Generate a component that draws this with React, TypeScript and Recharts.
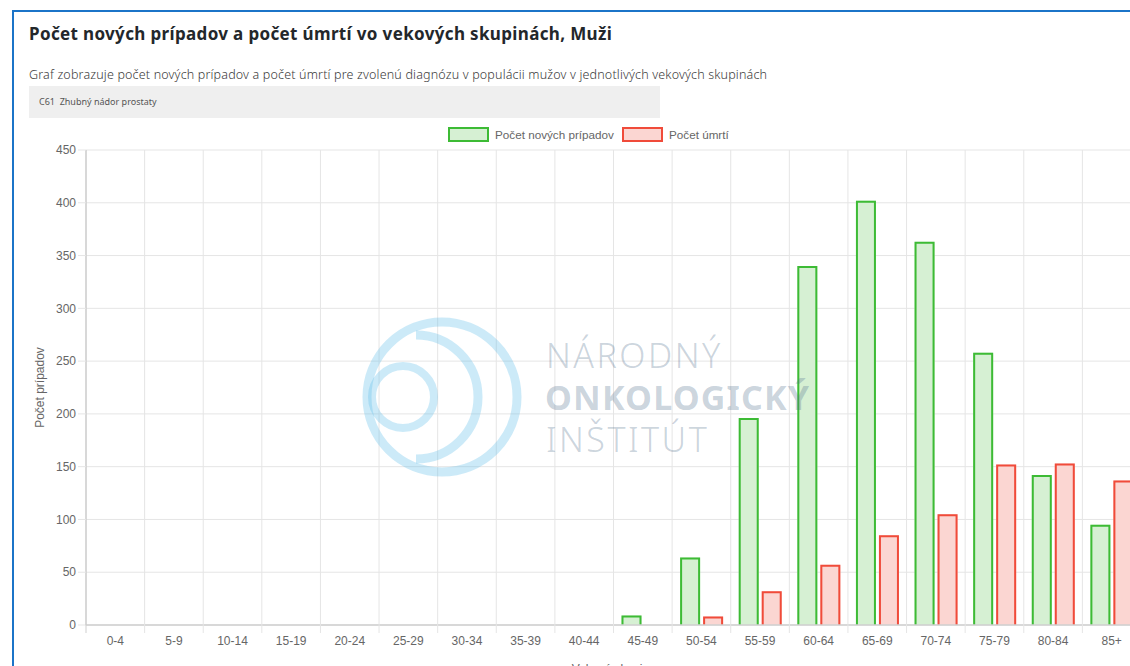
import React from 'react';
import { BarChart, Bar, XAxis, YAxis, CartesianGrid } from 'recharts';

const categories = ['0-4', '5-9', '10-14', '15-19', '20-24', '25-29', '30-34', '35-39', '40-44', '45-49', '50-54', '55-59', '60-64', '65-69', '70-74', '75-79', '80-84', '85+'];
const newCases = [0, 0, 0, 0, 0, 0, 0, 0, 0, 9, 64, 196, 340, 402, 363, 258, 142, 95];
const deaths = [0, 0, 0, 0, 0, 0, 0, 0, 0, 0, 8, 32, 57, 85, 105, 152, 153, 137];
const yTicks = [0, 50, 100, 150, 200, 250, 300, 350, 400, 450];

const seriesNames = { newCases: 'Počet nových prípadov', deaths: 'Počet úmrtí' };

const data = categories.map((c, i) => ({ group: c, newCases: newCases[i], deaths: deaths[i] }));

const GREEN = '#3dbb35';
const GREEN_FILL = '#d6f0d3';
const RED = '#f04b3a';
const RED_FILL = '#fbd6d2';
const GRID = '#e5e5e5';
const AXIS = '#cfcfcf';
const TICK = '#666';
const FONT = '"Liberation Sans", Arial, Helvetica, sans-serif';
const UI_FONT = '"Noto Sans", "Open Sans", sans-serif';

const CHART_W = 1160;
const CHART_H = 690;
const M_TOP = 150;
const M_RIGHT = 19;
const Y_W = 86;
const X_H = 40;
const M_BOTTOM = CHART_H - 625 - X_H;
const PLOT_W = CHART_W - Y_W - M_RIGHT;
const BAND = PLOT_W / categories.length;

function makeShape(stroke: string, fill: string) {
  return (props: any) => {
    const { x, y, width, height } = props;
    if (!height || height <= 0 || !width) return <g />;
    const b = 1;
    return (
      <g>
        <rect x={x} y={y} width={width} height={height} fill={fill} />
        <path
          d={`M${x + b},${y + height} L${x + b},${y + b} L${x + width - b},${y + b} L${x + width - b},${y + height}`}
          fill="none"
          stroke={stroke}
          strokeWidth={2}
        />
      </g>
    );
  };
}

const XTick = (props: any) => {
  const { x, y, payload, index } = props;
  const axisY = y - 8;
  const left = x - BAND / 2;
  return (
    <g>
      <line x1={left} y1={axisY - 1} x2={left} y2={axisY + 8} stroke={index === 0 ? AXIS : GRID} strokeWidth={1} />
      <text x={x} y={y + 12} textAnchor="middle" fill={TICK} fontSize={12} fontFamily={FONT}>
        {payload.value}
      </text>
    </g>
  );
};

const Watermark = () => (
  <svg width={500} height={200} style={{ position: 'absolute', left: 350, top: 305, pointerEvents: 'none' }}>
    <g fill="none" stroke="rgba(100,190,235,0.33)" strokeWidth={9}>
      <circle cx={92} cy={92} r={75} />
      <path d="M 66 30 A 62 62 0 1 1 66 154" />
      <circle cx={53} cy={92} r={31} strokeWidth={8} />
    </g>
    <g fill="rgba(80,110,140,0.3)" fontFamily={UI_FONT} fontSize={34}>
      <text x={196} y={63} fontWeight={300} letterSpacing={2.5}>NÁRODNÝ</text>
      <text x={195} y={105} fontWeight={700} letterSpacing={1.2}>ONKOLOGICKÝ</text>
      <text x={196} y={147} fontWeight={300} letterSpacing={2.5}>INŠTITÚT</text>
    </g>
  </svg>
);

const LegendItem = ({ stroke, fill, label, left }: { stroke: string; fill: string; label: string; left: number }) => (
  <div style={{ position: 'absolute', left, top: 127, display: 'flex', alignItems: 'center', fontFamily: FONT, fontSize: 11.7, color: TICK }}>
    <div style={{ width: 37, height: 11, border: `2px solid ${stroke}`, background: fill, marginRight: 6 }} />
    <span>{label}</span>
  </div>
);

export default function App() {
  return (
    <div style={{ position: 'relative', width: 1130, height: 666, overflow: 'hidden', background: '#fff' }}>
      <style>{'body{margin:0;overflow:hidden;}'}</style>
      <div style={{ position: 'absolute', left: 12, top: 10, width: 1300, height: 800, borderLeft: '2px solid #1b74c8', borderTop: '2px solid #1b74c8', boxSizing: 'border-box' }} />
      <div style={{ position: 'absolute', left: 29, top: 22, fontFamily: UI_FONT, fontWeight: 700, fontSize: 17, letterSpacing: 0.35, color: '#23272b', whiteSpace: 'nowrap' }}>
        Počet nových prípadov a počet úmrtí vo vekových skupinách, Muži
      </div>
      <div style={{ position: 'absolute', left: 29, top: 66, fontFamily: UI_FONT, fontWeight: 300, fontSize: 12.5, letterSpacing: 0.17, color: '#3a3a3a', whiteSpace: 'nowrap' }}>
        Graf zobrazuje počet nových prípadov a počet úmrtí pre zvolenú diagnózu v populácii mužov v jednotlivých vekových skupinách
      </div>
      <div style={{ position: 'absolute', left: 29, top: 86, width: 631, height: 32, background: '#efefef', fontFamily: UI_FONT, fontSize: 9, color: '#555', boxSizing: 'border-box', paddingLeft: 10, lineHeight: '32px', whiteSpace: 'nowrap' }}>
        C61&nbsp;&nbsp;Zhubný nádor prostaty
      </div>
      <LegendItem stroke={GREEN} fill={GREEN_FILL} label={seriesNames.newCases} left={448} />
      <LegendItem stroke={RED} fill={RED_FILL} label={seriesNames.deaths} left={622} />
      <div style={{ position: 'absolute', left: 0, top: 0 }}>
        <BarChart
          width={CHART_W}
          height={CHART_H}
          data={data}
          margin={{ top: M_TOP, right: M_RIGHT, left: 0, bottom: M_BOTTOM }}
          barCategoryGap="10%"
          barGap={3}
          barSize={20}
        >
          <CartesianGrid
            stroke={GRID}
            strokeWidth={1}
            horizontalValues={yTicks}
            verticalCoordinatesGenerator={({ offset }: any) =>
              categories.map((_, i) => offset.left + (i * offset.width) / categories.length).concat([offset.left + offset.width])
            }
          />
          <XAxis
            dataKey="group"
            height={X_H}
            tickLine={false}
            axisLine={{ stroke: AXIS, strokeWidth: 1.5 }}
            tick={<XTick />}
            interval={0}
            label={{ value: 'Vekové skupiny', position: 'insideBottom', offset: -8, fill: TICK, fontSize: 12, fontFamily: FONT }}
          />
          <YAxis
            width={Y_W}
            domain={[0, 450]}
            ticks={yTicks}
            interval={0}
            tickSize={8}
            tickLine={{ stroke: GRID }}
            axisLine={{ stroke: AXIS, strokeWidth: 1.5 }}
            tick={{ fill: TICK, fontSize: 12, fontFamily: FONT }}
            label={{ value: 'Počet prípadov', angle: -90, position: 'insideLeft', offset: 40, fill: TICK, fontSize: 12, fontFamily: FONT, style: { textAnchor: 'middle' } }}
          />
          <Bar dataKey="newCases" name={seriesNames.newCases} shape={makeShape(GREEN, GREEN_FILL)} isAnimationActive={false} />
          <Bar dataKey="deaths" name={seriesNames.deaths} shape={makeShape(RED, RED_FILL)} isAnimationActive={false} />
        </BarChart>
      </div>
      <Watermark />
    </div>
  );
}
